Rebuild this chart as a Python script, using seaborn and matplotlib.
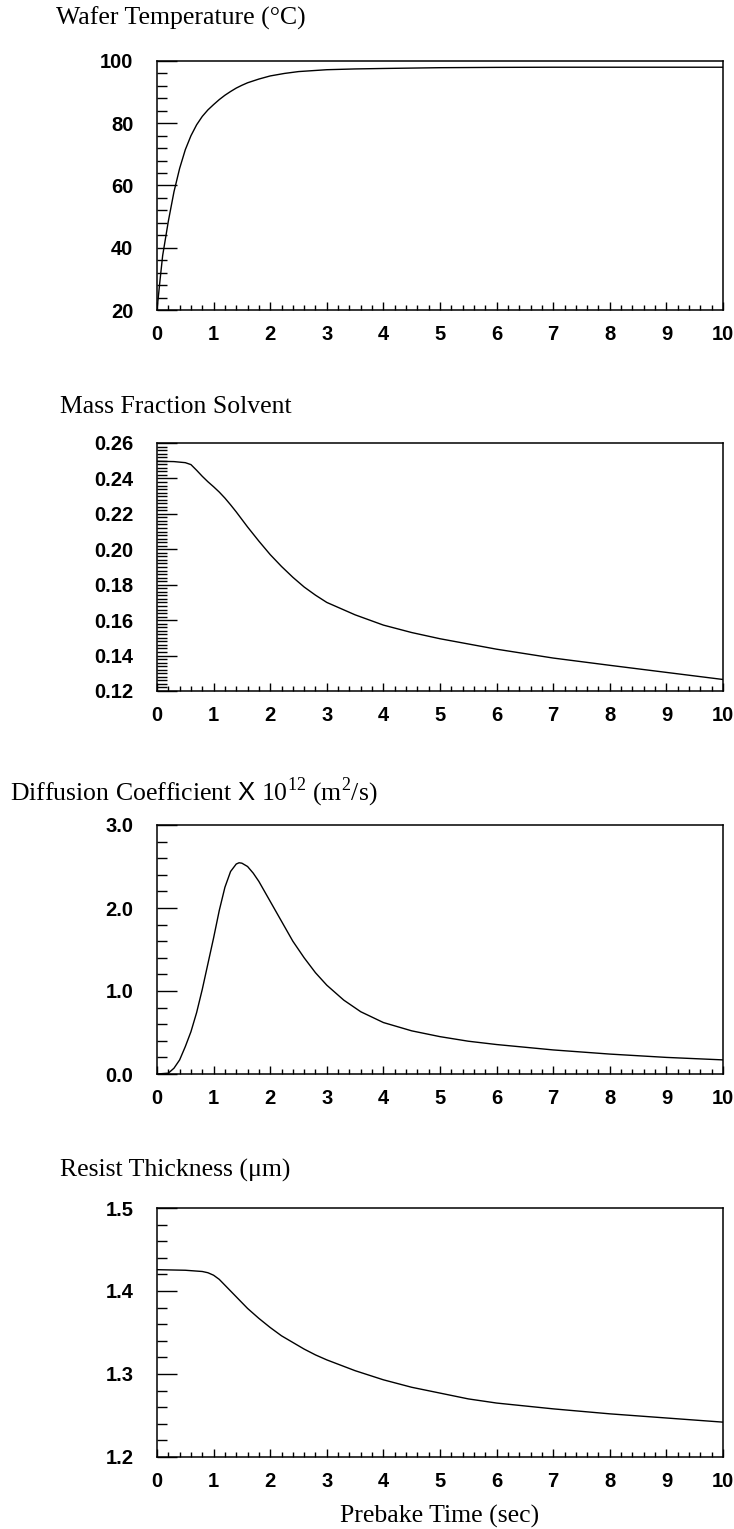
import matplotlib
matplotlib.use("Agg")
import matplotlib.pyplot as plt
import seaborn as sns
from matplotlib.ticker import MultipleLocator, FormatStrFormatter

# prebake time (sec) and values
t_temp = [0, 0.05, 0.1, 0.2, 0.3, 0.4, 0.5, 0.6, 0.7, 0.8, 0.9, 1.0, 1.1, 1.2,
          1.3, 1.4, 1.5, 1.6, 1.8, 2.0, 2.25, 2.5, 3.0, 3.5, 4.0, 5.0, 6.0,
          7.0, 8.0, 9.0, 10.0]
temp = [20, 29, 37.5, 48.5, 58, 65.5, 71.5, 76, 79.5, 82.2, 84.3, 86.0, 87.6,
        89.0, 90.2, 91.3, 92.2, 93.0, 94.2, 95.2, 96.0, 96.6, 97.2, 97.45,
        97.6, 97.85, 97.95, 98.0, 98.0, 98.0, 98.0]

t_mass = [0, 0.3, 0.5, 0.6, 0.7, 0.8, 0.9, 1.0, 1.1, 1.2, 1.3, 1.4, 1.6, 1.8,
          2.0, 2.2, 2.4, 2.6, 2.8, 3.0, 3.5, 4.0, 4.5, 5.0, 6.0, 7.0, 8.0,
          9.0, 10.0]
mass = [0.2497, 0.2495, 0.2489, 0.2478, 0.2446, 0.2412, 0.2381, 0.2353,
        0.2323, 0.2289, 0.2251, 0.2211, 0.2126, 0.2046, 0.1970, 0.1903,
        0.1842, 0.1787, 0.1741, 0.1700, 0.1630, 0.1572, 0.1530, 0.1495,
        0.1436, 0.1386, 0.1345, 0.1305, 0.1265]

t_diff = [0, 0.2, 0.3, 0.4, 0.5, 0.6, 0.7, 0.8, 0.9, 1.0, 1.1, 1.2, 1.3, 1.4,
          1.45, 1.5, 1.6, 1.7, 1.8, 1.9, 2.0, 2.2, 2.4, 2.6, 2.8, 3.0, 3.3,
          3.6, 4.0, 4.5, 5.0, 5.5, 6.0, 7.0, 8.0, 9.0, 10.0]
diff = [0.0, 0.01, 0.07, 0.17, 0.33, 0.51, 0.74, 1.02, 1.33, 1.64, 1.97, 2.25,
        2.44, 2.53, 2.545, 2.54, 2.50, 2.42, 2.32, 2.20, 2.08, 1.84, 1.60,
        1.40, 1.22, 1.07, 0.89, 0.75, 0.62, 0.52, 0.45, 0.395, 0.355, 0.29,
        0.24, 0.20, 0.17]

t_thick = [0, 0.5, 0.8, 0.9, 1.0, 1.1, 1.2, 1.3, 1.4, 1.6, 1.8, 2.0, 2.2, 2.4,
           2.6, 2.8, 3.0, 3.5, 4.0, 4.5, 5.0, 5.5, 6.0, 7.0, 8.0, 9.0, 10.0]
thick = [1.4257, 1.425, 1.4235, 1.422, 1.419, 1.414, 1.407, 1.400, 1.393,
         1.379, 1.367, 1.356, 1.346, 1.338, 1.330, 1.323, 1.317, 1.304,
         1.293, 1.284, 1.277, 1.270, 1.265, 1.258, 1.252, 1.247, 1.242]

titles = ["Wafer Temperature (°C)",
          "Mass Fraction Solvent",
          r"Diffusion Coefficient $\mathsf{X}$ 10$^{12}$ (m$^{2}$/s)",
          "Resist Thickness (μm)"]
xlabel = "Prebake Time (sec)"

sns.set_style("ticks")
plt.rcParams["font.family"] = ["Liberation Sans", "DejaVu Sans"]
plt.rcParams["mathtext.fontset"] = "custom"
plt.rcParams["mathtext.rm"] = "Liberation Serif"
plt.rcParams["mathtext.sf"] = "Liberation Sans"
plt.rcParams["text.color"] = "black"
plt.rcParams["xtick.color"] = "black"
plt.rcParams["ytick.color"] = "black"

W, H = 734, 1529
fig = plt.figure(figsize=(W / 100, H / 100), dpi=100)

# axes boxes in pixels: left, top, right, bottom
boxes = [(157, 61, 723, 310), (157, 443, 723, 691),
         (157, 825, 723, 1074), (157, 1208, 723, 1457)]
title_pos = [(56, 25), (60, 413), (10, 800), (60, 1177)]

panels = [
    (t_temp, temp, (20, 100), 20, 4, "%d"),
    (t_mass, mass, (0.12, 0.26), 0.02, 0.002, "%.2f"),
    (t_diff, diff, (0.0, 3.0), 1.0, 0.2, "%.1f"),
    (t_thick, thick, (1.2, 1.5), 0.1, 0.02, "%.1f"),
]

for i, (tx, ty, ylim, ymaj, ymin, fmt) in enumerate(panels):
    l, t, r, b = boxes[i]
    ax = fig.add_axes([l / W, 1 - b / H, (r - l) / W, (b - t) / H])
    sns.lineplot(x=tx, y=ty, ax=ax, color="black", linewidth=1.0)
    ax.set_xlim(0, 10)
    ax.set_ylim(*ylim)
    ax.xaxis.set_major_locator(MultipleLocator(1))
    ax.xaxis.set_minor_locator(MultipleLocator(0.2))
    ax.yaxis.set_major_locator(MultipleLocator(ymaj))
    ax.yaxis.set_minor_locator(MultipleLocator(ymin))
    ax.yaxis.set_major_formatter(FormatStrFormatter(fmt))
    ax.tick_params(axis="y", which="major", direction="in", length=14.5,
                   width=1, pad=17)
    ax.tick_params(axis="y", which="minor", direction="in", length=7.5, width=1)
    ax.tick_params(axis="x", which="major", direction="in", length=6,
                   width=1, pad=11)
    ax.tick_params(axis="x", which="minor", direction="in", length=3.5, width=1)
    for lab in ax.get_xticklabels() + ax.get_yticklabels():
        lab.set_fontsize(14.5)
        lab.set_fontweight("bold")
        lab.set_color("black")
    for sp in ax.spines.values():
        sp.set_visible(True)
        sp.set_linewidth(1.1)
        sp.set_color("black")
    ax.set_xlabel("")
    ax.set_ylabel("")
    tx0, ty0 = title_pos[i]
    fig.text(tx0 / W, 1 - ty0 / H, titles[i], fontsize=18.5, color="black",
             family=["Liberation Serif", "DejaVu Serif"], va="baseline", ha="left")

fig.text(440 / W, 1 - 1523 / H, xlabel, fontsize=18.5, color="black",
         family=["Liberation Serif", "DejaVu Serif"], va="baseline", ha="center")

fig.savefig("out.png", dpi=100)
